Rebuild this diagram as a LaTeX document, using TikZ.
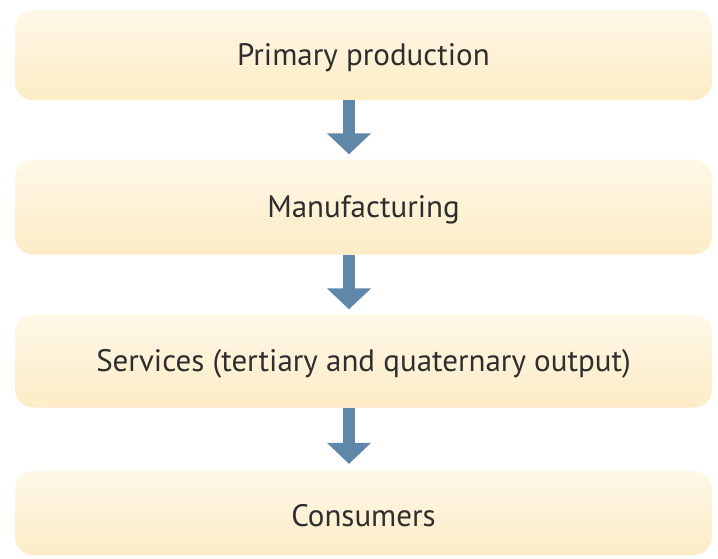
\documentclass[tikz,border=0pt]{standalone}
\usepackage{fontspec}
\setmainfont{PT Sans}
\usetikzlibrary{arrows.meta}
\definecolor{boxtop}{HTML}{FEF8E7}
\definecolor{boxbottom}{HTML}{FDECC6}
\definecolor{arrowblue}{HTML}{5E87AA}
\definecolor{labelgrey}{HTML}{2E2E2E}
% lower the label ink a little while keeping its declared extent
\newcommand{\stagetext}[1]{\raisebox{-3pt}[\height][\depth]{#1}}
\tikzset{
  stage/.style={rounded corners=18pt, top color=boxtop, bottom color=boxbottom,
    draw=none, minimum width=697pt, inner sep=0pt, text=labelgrey,
    font=\fontsize{31}{36}\selectfont},
  flow/.style={draw=arrowblue, line width=12pt,
    -{Triangle[width=43pt,length=21pt]}, shorten <=0pt}
}
\begin{document}
\begin{tikzpicture}[x=1pt,y=-1pt]
  \useasboundingbox (0,0) rectangle (718,558);
  \fill[white] (0,0) rectangle (718,558);
  \node[stage, minimum height=90pt] (b1) at (363.5,55) {\stagetext{Primary production}};
  \node[stage, minimum height=95pt] (b2) at (363.5,207) {\stagetext{Manufacturing}};
  \node[stage, minimum height=93pt] (b3) at (363.5,361) {\stagetext{Services (tertiary and quaternary output)}};
  \node[stage, minimum height=84pt] (b4) at (363.5,513) {\stagetext{Consumers}};
  \draw[flow] ([xshift=-14.5pt]b1.south) -- ([xshift=-14.5pt,yshift=5pt]b2.north);
  \draw[flow] ([xshift=-14.5pt]b2.south) -- ([xshift=-14.5pt,yshift=5pt]b3.north);
  \draw[flow] ([xshift=-14.5pt]b3.south) -- ([xshift=-14.5pt,yshift=7pt]b4.north);
\end{tikzpicture}
\end{document}
